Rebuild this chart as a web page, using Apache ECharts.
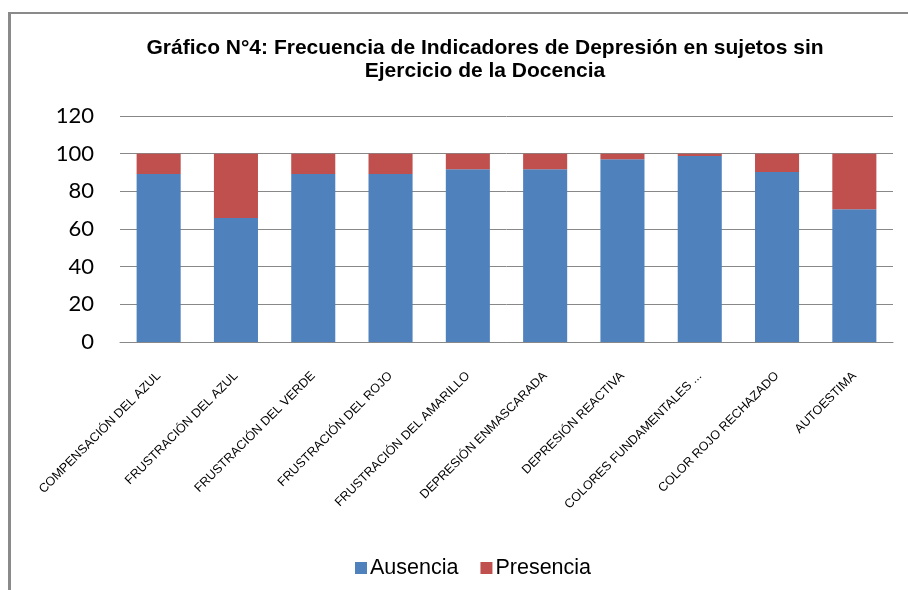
<!DOCTYPE html>
<html>
<head>
<meta charset="utf-8">
<script src="https://cdn.jsdelivr.net/npm/echarts@6/dist/echarts.min.js"></script>
<style>
  html, body { margin: 0; padding: 0; background: #fff; }
  #frame {
    position: absolute; left: 8px; top: 12px; width: 1000px; height: 700px;
    border-left: 3px solid #8a8a8a; border-top: 2px solid #8a8a8a;
  }
  #chart { position: absolute; left: 0; top: 0; width: 908px; height: 590px; }
</style>
</head>
<body>
<div id="frame"></div>
<div id="chart"></div>
<script>
const categories = [
  'COMPENSACIÓN DEL AZUL',
  'FRUSTRACIÓN DEL AZUL',
  'FRUSTRACIÓN DEL VERDE',
  'FRUSTRACIÓN DEL ROJO',
  'FRUSTRACIÓN DEL AMARILLO',
  'DEPRESIÓN ENMASCARADA',
  'DEPRESIÓN REACTIVA',
  'COLORES FUNDAMENTALES ...',
  'COLOR ROJO RECHAZADO',
  'AUTOESTIMA',
];
const ausencia = [89.2, 65.8, 89.2, 89.2, 91.7, 91.7, 97.0, 98.8, 90.3, 70.5];
const presencia = [10.8, 34.2, 10.8, 10.8, 8.3, 8.3, 3.0, 1.2, 9.7, 29.5];
const yTicks = { min: 0, max: 120, interval: 20 };

const myChart = echarts.init(document.getElementById('chart'), null, {
  renderer: 'canvas',
});

const option = {
  animation: false,
  title: {
    text: 'Gráfico N°4: Frecuencia de Indicadores de Depresión en sujetos sin\nEjercicio de la Docencia',
    left: 480,
    top: 32,
    textAlign: 'center',
    textStyle: {
      fontFamily: 'Liberation Sans',
      fontWeight: 'bold',
      fontSize: 21,
      lineHeight: 23,
      color: '#000',
    },
  },
  legend: {
    data: ['Ausencia', 'Presencia'],
    left: 350,
    top: 552,
    itemWidth: 12,
    itemHeight: 12,
    itemGap: 22,
    icon: 'rect',
    textStyle: {
      fontFamily: 'Liberation Sans',
      fontSize: 21.5,
      color: '#000',
      padding: [0, 0, 0, -2],
    },
  },
  grid: {
    left: 120,
    right: 15,
    top: 116,
    bottom: 248,
  },
  xAxis: {
    type: 'category',
    data: categories,
    axisTick: { show: false },
    axisLine: { lineStyle: { color: '#888', width: 1 } },
    axisLabel: {
      interval: 0,
      rotate: 45,
      margin: 32,
      fontFamily: 'Liberation Sans',
      fontSize: 12.5,
      color: '#000',
    },
  },
  yAxis: {
    type: 'value',
    min: yTicks.min,
    max: yTicks.max,
    interval: yTicks.interval,
    axisLine: { show: false },
    axisTick: { show: false },
    splitLine: { lineStyle: { color: '#888', width: 1 } },
    axisLabel: {
      margin: 26,
      fontFamily: 'Lato',
      fontSize: 22,
      color: '#000',
    },
  },
  series: [
    {
      name: 'Ausencia',
      type: 'bar',
      stack: 'total',
      barWidth: '57%',
      itemStyle: { color: '#4F81BD' },
      data: ausencia,
    },
    {
      name: 'Presencia',
      type: 'bar',
      stack: 'total',
      barWidth: '57%',
      itemStyle: { color: '#C0504D' },
      data: presencia,
    },
  ],
};
myChart.setOption(option);
</script>
</body>
</html>
